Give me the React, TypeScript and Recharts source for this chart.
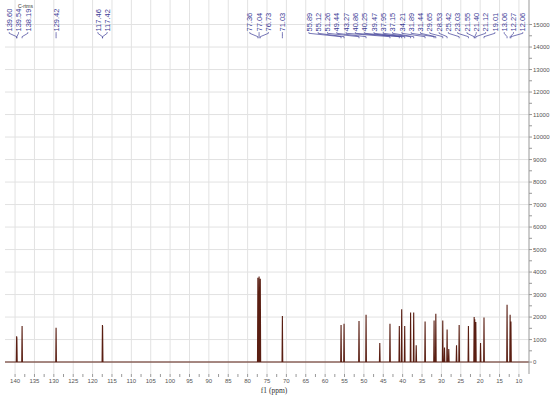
import { ComposedChart, Line, Scatter, XAxis, YAxis, CartesianGrid } from "recharts";

// labelled peaks (ppm) and their heights
const peakPpm = [
  139.6, 139.54, 138.19, 129.42, 117.46, 117.42, 77.36, 77.04, 76.73, 71.03,
  55.89, 55.12, 51.26, 49.44, 43.27, 40.86, 40.25, 39.47, 37.95, 37.15,
  34.21, 31.89, 31.44, 29.65, 28.53, 25.42, 23.03, 21.55, 21.4, 21.12,
  19.01, 13.06, 12.27, 12.06,
];
const peakHeight = [
  1150, 1100, 1600, 1520, 1650, 1600, 3750, 3800, 3700, 2050,
  1650, 1700, 1820, 2100, 1700, 1600, 2350, 1600, 2200, 2200,
  1800, 1850, 2150, 1850, 1450, 1650, 1600, 2000, 1900, 1780,
  1980, 2550, 2100, 1800,
];
const peakText = [
  "139.60", "139.54", "138.19", "129.42", "117.46", "117.42", "77.36", "77.04", "76.73", "71.03",
  "55.89", "55.12", "51.26", "49.44", "43.27", "40.86", "40.25", "39.47", "37.95", "37.15",
  "34.21", "31.89", "31.44", "29.65", "28.53", "25.42", "23.03", "21.55", "21.40", "21.12",
  "19.01", "13.06", "12.27", "12.06",
];

// small peaks without a label
const extraPpm = [45.9, 36.5, 29.2, 28.1, 26.1, 19.9];
const extraHeight = [850, 750, 650, 580, 750, 850];

const xLabels = [140, 135, 130, 125, 120, 115, 110, 105, 100, 95, 90, 85, 80, 75, 70, 65, 60, 55, 50, 45, 40, 35, 30, 25, 20, 15, 10];
const xMinor = [137.5, 132.5, 127.5, 122.5, 117.5, 112.5, 107.5, 102.5, 97.5, 92.5, 87.5, 82.5, 77.5, 72.5, 67.5, 62.5, 57.5, 52.5, 47.5, 42.5, 37.5, 32.5, 27.5, 22.5, 17.5, 12.5];
const yLabels = [0, 1000, 2000, 3000, 4000, 5000, 6000, 7000, 8000, 9000, 10000, 11000, 12000, 13000, 14000, 15000];
const yMinor = [500, 1500, 2500, 3500, 4500, 5500, 6500, 7500, 8500, 9500, 10500, 11500, 12500, 13500, 14500];

const X_DOMAIN: [number, number] = [7.4, 142.6];
const Y_DOMAIN: [number, number] = [-530, 16090];
const HALF_WIDTH = 0.09;
const LABEL_GAP = 2.4;

type Group = { members: number[]; center: number };

// spread labels so they do not overlap, like the usual peak-picking layout
function spreadLabels(vals: number[], gap: number, lo: number, hi: number) {
  const groups: Group[] = vals.map((v) => ({ members: [v], center: v }));
  const top = (g: Group) => g.center + (gap * (g.members.length - 1)) / 2;
  const bottom = (g: Group) => g.center - (gap * (g.members.length - 1)) / 2;
  const clamp = (g: Group) => {
    if (top(g) > hi) g.center -= top(g) - hi;
    if (bottom(g) < lo) g.center += lo - bottom(g);
  };
  let changed = true;
  while (changed) {
    changed = false;
    groups.forEach(clamp);
    for (let i = 0; i < groups.length - 1; i++) {
      const a = groups[i];
      const b = groups[i + 1];
      if (bottom(a) - top(b) < gap - 1e-9) {
        const members = [...a.members, ...b.members];
        const center = members.reduce((s, m) => s + m, 0) / members.length;
        groups.splice(i, 2, { members, center });
        changed = true;
        break;
      }
    }
  }
  const out: number[] = [];
  groups.forEach((g) => g.members.forEach((_, k) => out.push(top(g) - gap * k)));
  return out;
}

const allPeaks = [
  ...peakPpm.map((p, i) => ({ p, h: peakHeight[i] })),
  ...extraPpm.map((p, i) => ({ p, h: extraHeight[i] })),
].sort((a, b) => b.p - a.p);

const spectrum = [
  { x: X_DOMAIN[1], y: 0 },
  ...allPeaks.flatMap(({ p, h }) => [
    { x: p + HALF_WIDTH, y: 0 },
    { x: p, y: h },
    { x: p - HALF_WIDTH, y: 0 },
  ]),
  { x: X_DOMAIN[0], y: 0 },
];

const labelPos = spreadLabels(peakPpm, LABEL_GAP, 9.0, 141.8);

const labels = peakPpm.map((p, i) => ({ x: labelPos[i], y: 14690, text: peakText[i] }));

const connectors = peakPpm.flatMap((p, i) => [
  { x: labelPos[i], y: 14660 },
  { x: labelPos[i], y: 14610 },
  { x: p, y: 14460 },
  { x: p, y: 14390 },
  { x: p, y: null },
]);

const LabelText = (props: any) => {
  const { cx, cy, payload } = props;
  return (
    <text
      x={cx}
      y={cy}
      transform={`rotate(-90, ${cx}, ${cy})`}
      dy="0.36em"
      fontSize={7.5}
      fontFamily="Liberation Sans, Arial, sans-serif"
      fill="#3c3c96"
      textAnchor="start"
    >
      {payload.text}
    </text>
  );
};

export default function App() {
  return (
    <div style={{ position: "absolute", left: 0, top: 0, width: 550, height: 396, background: "#fff" }}>
      <ComposedChart width={550} height={396} margin={{ top: 0, right: 0, bottom: 0, left: 5 }}>
        <CartesianGrid stroke="#e2e2e2" verticalValues={xLabels} horizontalValues={yLabels} />
        <XAxis
          type="number"
          dataKey="x"
          domain={X_DOMAIN}
          reversed
          allowDataOverflow
          ticks={[...xLabels, ...xMinor].sort((a, b) => b - a)}
          interval={0}
          tickFormatter={(v: number) => (v % 5 === 0 ? String(v) : "")}
          height={22}
          axisLine={false}
          tickLine={{ stroke: "#999" }}
          tickSize={3}
          tick={{ fontSize: 6, fill: "#555", fontFamily: "Liberation Sans, Arial, sans-serif" }}
          label={{ value: "f1 (ppm)", position: "insideBottom", offset: 3, dx: 7, fontSize: 7.5, fill: "#333", fontFamily: "Liberation Serif, serif" }}
        />
        <YAxis
          type="number"
          dataKey="y"
          orientation="right"
          domain={Y_DOMAIN}
          allowDataOverflow
          ticks={[...yLabels, ...yMinor].sort((a, b) => a - b)}
          interval={0}
          tickFormatter={(v: number) => (v % 1000 === 0 ? String(v) : "")}
          width={21}
          axisLine={{ stroke: "#999" }}
          tickLine={{ stroke: "#999" }}
          tickSize={3}
          tickMargin={1}
          tick={{ fontSize: 6, fill: "#555", fontFamily: "Liberation Sans, Arial, sans-serif", textAnchor: "start" }}
        />
        <Line
          data={spectrum}
          dataKey="y"
          type="linear"
          stroke="#5a1e12"
          strokeWidth={1.1}
          dot={false}
          isAnimationActive={false}
        />
        <Line
          data={connectors}
          dataKey="y"
          type="linear"
          stroke="#3c3c96"
          strokeWidth={0.7}
          dot={false}
          connectNulls={false}
          isAnimationActive={false}
        />
        <Scatter data={labels} dataKey="y" shape={LabelText} isAnimationActive={false} />
        <text x={18} y={8} fontSize={5} fill="#333" fontFamily="Liberation Sans, Arial, sans-serif">
          C-rtms
        </text>
      </ComposedChart>
    </div>
  );
}
